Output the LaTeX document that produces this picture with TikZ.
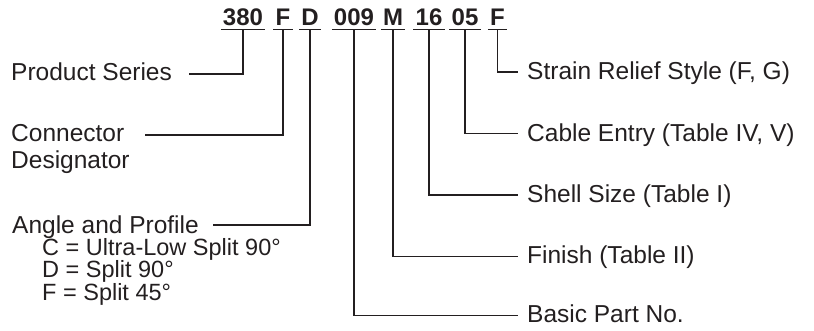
\documentclass[tikz,border=0pt]{standalone}
\usepackage{fontspec}
\setmainfont{Liberation Sans}
\definecolor{ink}{RGB}{35,31,32}
\begin{document}
\begin{tikzpicture}[x=1pt,y=-1pt,
  code/.style={anchor=base,inner sep=0pt,text depth=0pt,font=\fontsize{24}{28}\selectfont\bfseries,text=ink},
  lab/.style={anchor=base west,inner sep=0pt,text height=16pt,text depth=4pt,font=\fontsize{24.5}{29}\selectfont,text=ink},
  sublab/.style={lab,font=\fontsize{23.5}{28}\selectfont},
  wire/.style={draw=ink,line width=1.3pt}]
\useasboundingbox (0,0) rectangle (814,330);
% code segments
\node[code] (c380) at (243,25) {380};
\node[code] (cF1) at (283,25) {F};
\node[code] (cD) at (310,25) {D};
\node[code] (c009) at (354,25) {009};
\node[code] (cM) at (393,25) {M};
\node[code] (c16) at (429,25) {16};
\node[code] (c05) at (465,25) {05};
\node[code] (cF2) at (497.5,25) {F};
\foreach \n in {c380,cF1,cD,c009,cM,c16,c05,cF2}
  \draw[wire] ([xshift=-2pt,yshift=-4pt]\n.south west) -- ([xshift=2pt,yshift=-4pt]\n.south east);
% left labels
\node[lab] (ps) at (11,80) {Product Series};
\node[lab] (cd1) at (11,141) {Connector};
\node[lab] (cd2) at (11,168) {Designator};
\node[lab] (ap) at (12,233) {Angle and Profile};
\node[sublab] (ap1) at (42,255) {C = Ultra-Low Split 90°};
\node[sublab] (ap2) at (42,277) {D = Split 90°};
\node[sublab] (ap3) at (42,300) {F = Split 45°};
\coordinate (psend) at (189,74);
\coordinate (cdend) at (145,135);
\coordinate (apend) at (213,225);
% right labels
\node[lab] (sr) at (527,79) {Strain Relief Style (F, G)};
\node[lab] (ce) at (527,141) {Cable Entry (Table IV, V)};
\node[lab] (ss) at (527,202) {Shell Size (Table I)};
\node[lab] (fi) at (527,263) {Finish (Table II)};
\node[lab] (bp) at (527,322) {Basic Part No.};
% connectors
\draw[wire] ([yshift=-4pt]c380.south) |- (psend);
\draw[wire] ([yshift=-4pt]cF1.south) |- (cdend);
\draw[wire] ([yshift=-4pt]cD.south) |- (apend);
\draw[wire] ([yshift=-4pt]c009.south) |- ([xshift=-9pt,yshift=6.5pt]bp.base west);
\draw[wire] ([yshift=-4pt]cM.south) |- ([xshift=-9pt,yshift=6.5pt]fi.base west);
\draw[wire] ([yshift=-4pt]c16.south) |- ([xshift=-9pt,yshift=7pt]ss.base west);
\draw[wire] ([yshift=-4pt]c05.south) |- ([xshift=-9pt,yshift=7.5pt]ce.base west);
\draw[wire] ([yshift=-4pt]cF2.south) |- ([xshift=-9pt,yshift=7pt]sr.base west);
\end{tikzpicture}
\end{document}
